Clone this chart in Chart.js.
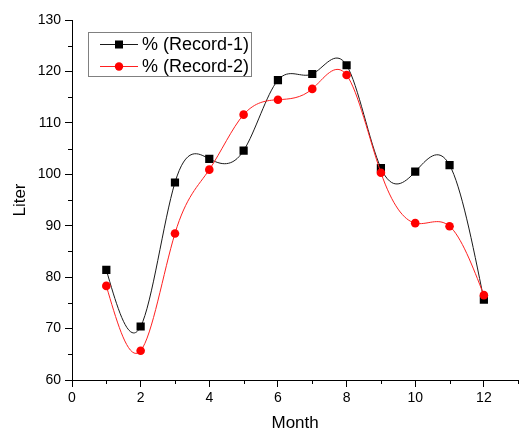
<!DOCTYPE html>
<html>
<head>
<meta charset="utf-8">
<script src="https://cdn.jsdelivr.net/npm/chart.js@4.4.1/dist/chart.umd.min.js"></script>
<style>
  html, body { margin: 0; padding: 0; background: #fff; }
  #wrap { width: 524px; height: 432px; position: relative; }
</style>
</head>
<body>
<div id="wrap"><canvas id="c" width="524" height="432"></canvas></div>
<script>
const months = [1, 2, 3, 4, 5, 6, 7, 8, 9, 10, 11, 12];
const record1 = [81.4, 70.4, 98.4, 103.0, 104.6, 118.3, 119.5, 121.2, 101.2, 100.5, 101.8, 75.6];
const record2 = [78.3, 65.7, 88.5, 100.9, 111.6, 114.5, 116.6, 119.3, 100.3, 90.5, 89.9, 76.5];
const seriesLabels = ['% (Record-1)', '% (Record-2)'];
const xTitle = 'Month';
const yTitle = 'Liter';

const FONT = '"Liberation Sans", Arial, sans-serif';

// Natural cubic spline through the point elements placed by the library's scales
const naturalSpline = {
  id: 'naturalSpline',
  beforeDatasetDraw(chart, args) {
    const meta = args.meta;
    const pts = meta.data;
    const n = pts.length;
    if (n < 3) return;
    const X = pts.map(p => p.x), Y = pts.map(p => p.y);
    const h = [];
    for (let i = 0; i < n - 1; i++) h.push(X[i + 1] - X[i]);
    // solve for second derivatives M (natural: M0 = Mn-1 = 0)
    const M = new Array(n).fill(0);
    const a = [], b = [], c = [], d = [];
    for (let i = 1; i < n - 1; i++) {
      a.push(h[i - 1]);
      b.push(2 * (h[i - 1] + h[i]));
      c.push(h[i]);
      d.push(6 * ((Y[i + 1] - Y[i]) / h[i] - (Y[i] - Y[i - 1]) / h[i - 1]));
    }
    const m = b.length;
    for (let i = 1; i < m; i++) {
      const w = a[i] / b[i - 1];
      b[i] -= w * c[i - 1];
      d[i] -= w * d[i - 1];
    }
    const sol = new Array(m);
    sol[m - 1] = d[m - 1] / b[m - 1];
    for (let i = m - 2; i >= 0; i--) sol[i] = (d[i] - c[i] * sol[i + 1]) / b[i];
    for (let i = 0; i < m; i++) M[i + 1] = sol[i];
    for (let i = 0; i < n - 1; i++) {
      const hi = h[i];
      const s = (Y[i + 1] - Y[i]) / hi;
      const d0 = s - hi * (2 * M[i] + M[i + 1]) / 6;
      const d1 = s + hi * (M[i] + 2 * M[i + 1]) / 6;
      pts[i].cp2x = X[i] + hi / 3;
      pts[i].cp2y = Y[i] + d0 * hi / 3;
      pts[i + 1].cp1x = X[i + 1] - hi / 3;
      pts[i + 1].cp1y = Y[i + 1] - d1 * hi / 3;
    }
    pts[0].cp1x = X[0]; pts[0].cp1y = Y[0];
    pts[n - 1].cp2x = X[n - 1]; pts[n - 1].cp2y = Y[n - 1];
    meta.dataset._pointsUpdated = true;
    meta.dataset._path = undefined;
  }
};

const minorTicks = {
  id: 'minorTicks',
  afterDraw(chart) {
    const ctx = chart.ctx;
    const xs = chart.scales.x, ys = chart.scales.y;
    ctx.save();
    ctx.strokeStyle = '#000';
    ctx.lineWidth = 1;
    ctx.beginPath();
    for (let v = 1; v <= 13; v += 2) {
      const px = Math.round(xs.getPixelForValue(v)) + 0.5;
      ctx.moveTo(px, xs.top);
      ctx.lineTo(px, xs.top + 4);
    }
    for (let v = 65; v < 130; v += 10) {
      const py = Math.round(ys.getPixelForValue(v)) + 0.5;
      ctx.moveTo(ys.right - 4, py);
      ctx.lineTo(ys.right, py);
    }
    ctx.stroke();
    ctx.restore();
  }
};

const boxLegend = {
  id: 'boxLegend',
  afterDraw(chart) {
    const ctx = chart.ctx;
    ctx.save();
    ctx.strokeStyle = '#808080';
    ctx.lineWidth = 1;
    ctx.strokeRect(88.5, 32.5, 163, 44);
    const rows = [44.5, 66.5];
    chart.data.datasets.forEach((ds, i) => {
      const y = rows[i];
      ctx.strokeStyle = ds.borderColor;
      ctx.lineWidth = 1;
      ctx.beginPath();
      ctx.moveTo(100, y);
      ctx.lineTo(138, y);
      ctx.stroke();
      ctx.fillStyle = ds.pointBackgroundColor;
      if (ds.pointStyle === 'rect') {
        ctx.fillRect(115, y - 4, 8, 8);
      } else {
        ctx.beginPath();
        ctx.arc(119, y, 4.2, 0, Math.PI * 2);
        ctx.fill();
      }
      ctx.fillStyle = '#000';
      ctx.font = '18px ' + FONT;
      ctx.textBaseline = 'middle';
      ctx.textAlign = 'left';
      ctx.fillText(ds.label, 142, y + 1);
    });
    ctx.restore();
  }
};

new Chart(document.getElementById('c'), {
  type: 'line',
  data: {
    datasets: [
      {
        label: seriesLabels[0],
        data: months.map((m, i) => ({ x: m, y: record1[i] })),
        borderColor: '#1a1a1a',
        backgroundColor: '#000',
        pointBackgroundColor: '#000',
        pointBorderColor: '#000',
        pointBorderWidth: 0,
        pointStyle: 'rect',
        pointRadius: 5.8,
        borderWidth: 1,
        tension: 0.4,
        order: 2
      },
      {
        label: seriesLabels[1],
        data: months.map((m, i) => ({ x: m, y: record2[i] })),
        borderColor: '#ff2020',
        backgroundColor: '#ff0000',
        pointBackgroundColor: '#ff0000',
        pointBorderColor: '#ff0000',
        pointBorderWidth: 0,
        pointStyle: 'circle',
        pointRadius: 4.3,
        borderWidth: 1,
        tension: 0.4,
        order: 1
      }
    ]
  },
  options: {
    responsive: false,
    animation: false,
    layout: { padding: { top: 20, right: 3, left: 0, bottom: 0 } },
    plugins: { legend: { display: false }, tooltip: { enabled: false } },
    scales: {
      x: {
        type: 'linear',
        min: 0,
        max: 13,
        afterFit(s) { s.height = 52; },
        border: { display: true, color: '#000', width: 1 },
        grid: { drawOnChartArea: false, drawTicks: true, tickLength: 7, color: '#000' },
        ticks: {
          stepSize: 2,
          includeBounds: false,
          color: '#000',
          padding: 3,
          maxRotation: 0,
          font: { family: FONT, size: 14 },
          callback: v => v
        },
        title: {
          display: true,
          text: xTitle,
          color: '#000',
          font: { family: FONT, size: 17, lineHeight: 1 },
          padding: { top: 0, bottom: 0 }
        }
      },
      y: {
        type: 'linear',
        min: 60,
        max: 130,
        afterFit(s) { s.width = 72; },
        border: { display: true, color: '#000', width: 1 },
        grid: { drawOnChartArea: false, drawTicks: true, tickLength: 7, color: '#000' },
        ticks: {
          stepSize: 10,
          color: '#000',
          padding: 4,
          font: { family: FONT, size: 14 }
        },
        title: {
          display: true,
          text: yTitle,
          color: '#000',
          font: { family: FONT, size: 17, lineHeight: 1 },
          padding: { top: 12, bottom: 0 }
        }
      }
    }
  },
  plugins: [naturalSpline, minorTicks, boxLegend]
});
</script>
</body>
</html>
